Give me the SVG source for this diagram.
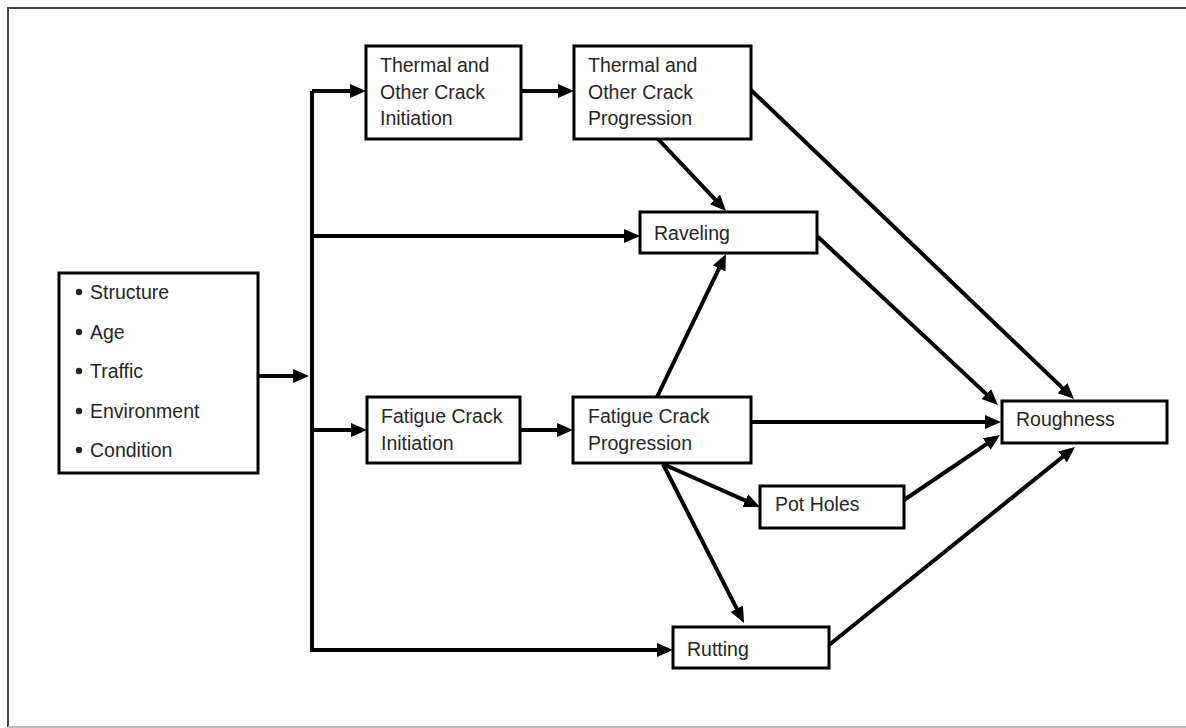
<svg xmlns="http://www.w3.org/2000/svg" width="1186" height="728" viewBox="0 0 1186 728">
<defs>
<marker id="ah" markerUnits="userSpaceOnUse" markerWidth="16" markerHeight="14" refX="10" refY="7" orient="auto">
<path d="M0,0 L16,7 L0,14 z" fill="#000"/>
</marker>
<style>
.box{fill:#fff;stroke:#000;stroke-width:3}
.t{font-family:"Liberation Sans",Arial,sans-serif;font-size:19.5px;fill:#262626}
.c{fill:none;stroke:#000;stroke-width:4;marker-end:url(#ah)}
.l{fill:none;stroke:#000;stroke-width:4}
.fr{fill:none;stroke:#444;stroke-width:2}
</style>
</defs>
<rect x="0" y="0" width="1186" height="728" fill="#fff"/>
<g id="frame">
<path class="fr" d="M8,727 V8 H1186"/>
<path d="M8,727 H1186" fill="none" stroke="#bbb" stroke-width="2"/>
</g>
<g id="connectors">
<path class="l" d="M312,650 V91"/>
<path class="c" d="M258,376 H303"/>
<path class="c" d="M312,91 H360"/>
<path class="c" d="M312,236 H634"/>
<path class="c" d="M312,430 H361"/>
<path class="c" d="M310,650 H667"/>
<path class="c" d="M521,91 H568"/>
<path class="c" d="M520,430 H567"/>
<path class="c" d="M658,139 L721.9,206.6"/>
<path class="c" d="M657,397 L723.4,259.4"/>
<path class="c" d="M751,90 L1069.7,394.9"/>
<path class="c" d="M817,236 L993.6,400.9"/>
<path class="c" d="M751,422 H995"/>
<path class="c" d="M904,500 L995,438.4"/>
<path class="c" d="M829,645 L1070.3,450.7"/>
<path class="c" d="M663,464 L754.5,504.6"/>
<path class="c" d="M663,464 L741.3,617.7"/>
</g>
<g id="inputs">
<rect class="box" x="59" y="273" width="199" height="200"/>
<circle cx="79" cy="292" r="3.2" fill="#262626"/>
<circle cx="79" cy="332" r="3.2" fill="#262626"/>
<circle cx="79" cy="371" r="3.2" fill="#262626"/>
<circle cx="79" cy="411" r="3.2" fill="#262626"/>
<circle cx="79" cy="450" r="3.2" fill="#262626"/>
<text class="t" x="90" y="299">Structure</text>
<text class="t" x="90" y="338.5">Age</text>
<text class="t" x="90" y="378">Traffic</text>
<text class="t" x="90" y="417.5">Environment</text>
<text class="t" x="90" y="457">Condition</text>
</g>
<g id="thermal-init">
<rect class="box" x="366" y="46" width="155" height="93"/>
<text class="t" x="380" y="72">Thermal and</text>
<text class="t" x="380" y="98.5">Other Crack</text>
<text class="t" x="380" y="125">Initiation</text>
</g>
<g id="thermal-prog">
<rect class="box" x="574" y="46" width="177" height="93"/>
<text class="t" x="588" y="72">Thermal and</text>
<text class="t" x="588" y="98.5">Other Crack</text>
<text class="t" x="588" y="125">Progression</text>
</g>
<g id="raveling">
<rect class="box" x="640" y="212" width="177" height="41"/>
<text class="t" x="654" y="240">Raveling</text>
</g>
<g id="fatigue-init">
<rect class="box" x="367" y="397" width="153" height="66"/>
<text class="t" x="381" y="423">Fatigue Crack</text>
<text class="t" x="381" y="449.5">Initiation</text>
</g>
<g id="fatigue-prog">
<rect class="box" x="573" y="397" width="178" height="66"/>
<text class="t" x="588" y="423">Fatigue Crack</text>
<text class="t" x="588" y="449.5">Progression</text>
</g>
<g id="pot-holes">
<rect class="box" x="760" y="486" width="144" height="42"/>
<text class="t" x="775" y="511">Pot Holes</text>
</g>
<g id="rutting">
<rect class="box" x="673" y="627" width="156" height="41"/>
<text class="t" x="687" y="656">Rutting</text>
</g>
<g id="roughness">
<rect class="box" x="1002" y="401" width="165" height="42"/>
<text class="t" x="1016" y="426">Roughness</text>
</g>
</svg>
